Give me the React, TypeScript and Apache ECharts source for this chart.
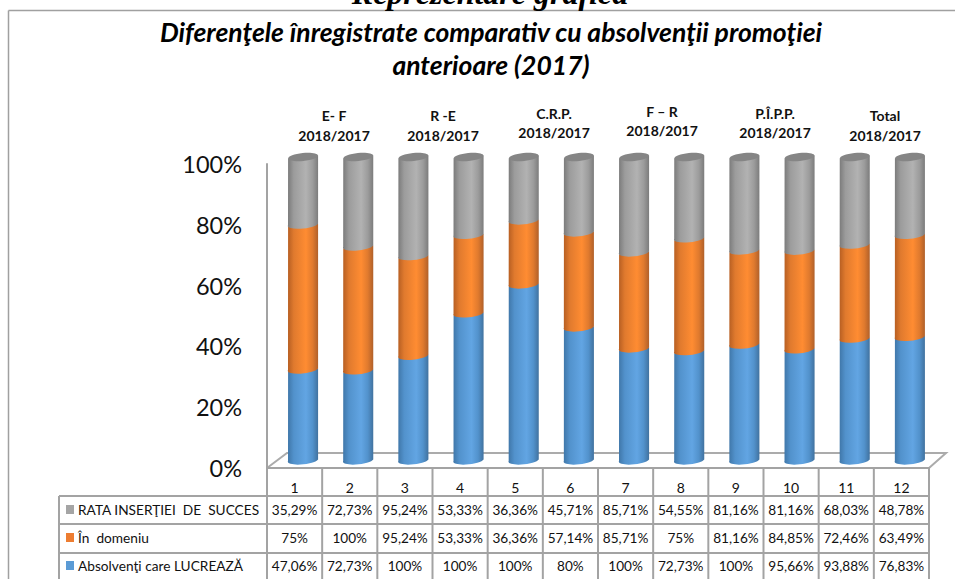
import React, { useEffect, useRef } from "react";
import * as echarts from "echarts";

const categories = ["1", "2", "3", "4", "5", "6", "7", "8", "9", "10", "11", "12"];
const seriesBlueName = "Absolvenţi care LUCREAZĂ";
const seriesOrangeName = "În  domeniu";
const seriesGrayName = "RATA INSERŢIEI  DE  SUCCES";
const blueValues = [47.06, 72.73, 100, 100, 100, 80, 100, 72.73, 100, 95.66, 93.88, 76.83];
const orangeValues = [75, 100, 95.24, 53.33, 36.36, 57.14, 85.71, 75, 81.16, 84.85, 72.46, 63.49];
const grayValues = [35.29, 72.73, 95.24, 53.33, 36.36, 45.71, 85.71, 54.55, 81.16, 81.16, 68.03, 48.78];
const blueLabels = ["47,06%", "72,73%", "100%", "100%", "100%", "80%", "100%", "72,73%", "100%", "95,66%", "93,88%", "76,83%"];
const orangeLabels = ["75%", "100%", "95,24%", "53,33%", "36,36%", "57,14%", "85,71%", "75%", "81,16%", "84,85%", "72,46%", "63,49%"];
const grayLabels = ["35,29%", "72,73%", "95,24%", "53,33%", "36,36%", "45,71%", "85,71%", "54,55%", "81,16%", "81,16%", "68,03%", "48,78%"];
const groupLabels = ["E- F", "R -E", "C.R.P.", "F – R", "P.Î.P.P.", "Total"];
const groupPeriod = "2018/2017";
const pageHeading = "Reprezentare grafică";
const titleLines = ["Diferenţele înregistrate comparativ cu absolvenţii promoţiei", "anterioare (2017)"];

const groupPos = [
  [334, 115, 135],
  [443, 115, 135],
  [554, 113, 132],
  [662, 111, 130],
  [775, 113, 132],
  [885, 115, 135],
];
const FONT = "Lato";
const LINE = "#a3a3a3";
const LEFT = 267;
const RIGHT = 929;
const COL = (RIGHT - LEFT) / 12;

const stacks = categories.map((_, i) => {
  const total = blueValues[i] + orangeValues[i] + grayValues[i];
  const a = (blueValues[i] / total) * 100;
  const b = ((blueValues[i] + orangeValues[i]) / total) * 100;
  return [a, b];
});

const grad = (edgeL: string, mid: string, light: string, edgeR: string) =>
  new echarts.graphic.LinearGradient(0, 0, 1, 0, [
    { offset: 0, color: edgeL },
    { offset: 0.2, color: mid },
    { offset: 0.6, color: light },
    { offset: 0.82, color: mid },
    { offset: 1, color: edgeR },
  ]);

function cyl(fill: any, top: boolean) {
  return (params: any, api: any) => {
    const i = api.value(0);
    const p0 = api.coord([i, api.value(1)]);
    const p1 = api.coord([i, api.value(2)]);
    const cx = p0[0] + 8.5;
    const yB = p0[1] - 7;
    const yT = p1[1] - 7;
    const rx = 15;
    const ry = 4;
    const t = 1.5;
    const L = cx - rx;
    const R = cx + rx;
    const d = `M${L} ${yT + t}L${R} ${yT - t}L${R} ${yB - t}A${rx} ${ry} -5.7 0 1 ${L} ${yB + t}Z`;
    const children: any[] = [{ type: "path", shape: { pathData: d }, style: { fill } }];
    if (top) {
      children.push({
        type: "ellipse",
        x: cx,
        y: yT,
        rotation: 0.1,
        shape: { cx: 0, cy: 0, rx, ry },
        style: { fill: "#858585" },
      });
    }
    return { type: "group", children };
  };
}

const text = (s: string, x: number, y: number, size: number, extra: any = {}) => ({
  type: "text",
  z: 5,
  x,
  y,
  style: {
    text: s,
    fontFamily: FONT,
    fontSize: size,
    fill: "#111111",
    align: "center",
    verticalAlign: "middle",
    ...extra,
  },
});

const line = (x1: number, y1: number, x2: number, y2: number, color = LINE, w = 2) => ({
  type: "line",
  z: 1,
  shape: { x1, y1, x2, y2 },
  style: { stroke: color, lineWidth: w },
});

function buildGraphics() {
  const g: any[] = [];
  g.push(line(8.5, 10.5, 8.5, 579, "#a0a0a0", 1.5));
  g.push(line(8.5, 10.5, 955, 10.5, "#a0a0a0", 1.5));
  g.push(
    text(pageHeading, 490, 9, 32, {
      fontFamily: "Liberation Serif",
      fontWeight: "bold",
      fontStyle: "italic",
      verticalAlign: "bottom",
      fill: "#000000",
    })
  );
  titleLines.forEach((s, i) =>
    g.push(text(s, 491, 32 + i * 33, 26.5, { fontWeight: "bold", fontStyle: "italic", fill: "#000000" }))
  );
  groupLabels.forEach((s, i) => {
    const [x, y1, y2] = groupPos[i];
    g.push(text(s, x, y1, 14, { fontWeight: "bold" }));
    g.push(text(groupPeriod, x, y2, 14, { fontWeight: "bold" }));
  });
  // floor
  g.push({
    type: "polyline",
    z: 0,
    shape: { points: [[267, 468], [287, 453], [946, 453], [929, 468]] },
    style: { stroke: "#ababab", lineWidth: 2, fill: "none" },
  });
  // table
  const rows = [496, 524, 553, 580];
  rows.forEach((y) => g.push(line(59, y, RIGHT, y)));
  g.push(line(59, 496, 59, 579));
  for (let i = 0; i <= 12; i++) {
    const x = LEFT + i * COL;
    g.push(line(x, 468, x, 579));
  }
  const tableRows = [
    { name: seriesGrayName, cells: grayLabels, key: "#a5a5a5", y: 510 },
    { name: seriesOrangeName, cells: orangeLabels, key: "#ed7d31", y: 538 },
    { name: seriesBlueName, cells: blueLabels, key: "#5b9bd5", y: 566 },
  ];
  tableRows.forEach((r) => {
    g.push({
      type: "rect",
      z: 2,
      shape: { x: 66, y: r.y - 5, width: 8, height: 9 },
      style: { fill: r.key },
    });
    g.push(text(r.name, 78, r.y - 1, 13.7, { align: "left" }));
    r.cells.forEach((c, i) => g.push(text(c, LEFT + (i + 0.5) * COL, r.y, 13.6)));
  });
  return g;
}

export default function App() {
  const ref = useRef<HTMLDivElement>(null);
  useEffect(() => {
    document.body.style.margin = "0";
    const chart = echarts.init(ref.current!, null, { renderer: "svg" });
    const blueFill = grad("#3f76a8", "#5292cc", "#62a5e3", "#41729f");
    const orangeFill = grad("#b65e22", "#e07a2e", "#ff8c32", "#b0602a");
    const grayFill = grad("#7a7a7a", "#9c9c9c", "#b2b2b2", "#7c7c7c");
    chart.setOption({
      animation: false,
      backgroundColor: "#ffffff",
      grid: { left: LEFT, right: 955 - RIGHT, top: 164, bottom: 579 - 468, containLabel: false },
      xAxis: {
        type: "category",
        data: categories,
        axisLine: { lineStyle: { color: LINE, width: 2 } },
        axisTick: { show: false },
        axisLabel: { color: "#111111", fontFamily: FONT, fontSize: 14, margin: 12 },
        splitLine: { show: false },
      },
      yAxis: {
        type: "value",
        min: 0,
        max: 100,
        interval: 20,
        axisLine: { show: true, lineStyle: { color: LINE, width: 2 } },
        axisTick: { show: false },
        axisLabel: {
          color: "#111111",
          fontFamily: FONT,
          fontSize: 23.5,
          margin: 25,
          formatter: "{value}%",
        },
        splitLine: { show: false },
      },
      series: [
        {
          name: seriesBlueName,
          type: "custom",
          clip: false,
          renderItem: cyl(blueFill, false),
          encode: { x: 0, y: 2 },
          data: categories.map((_, i) => [i, 0, stacks[i][0]]),
        },
        {
          name: seriesOrangeName,
          type: "custom",
          clip: false,
          renderItem: cyl(orangeFill, false),
          encode: { x: 0, y: 2 },
          data: categories.map((_, i) => [i, stacks[i][0], stacks[i][1]]),
        },
        {
          name: seriesGrayName,
          type: "custom",
          clip: false,
          renderItem: cyl(grayFill, true),
          encode: { x: 0, y: 2 },
          data: categories.map((_, i) => [i, stacks[i][1], 100]),
        },
      ],
      graphic: buildGraphics(),
    });
    return () => chart.dispose();
  }, []);
  return <div ref={ref} style={{ position: "absolute", left: 0, top: 0, width: 955, height: 579 }} />;
}
